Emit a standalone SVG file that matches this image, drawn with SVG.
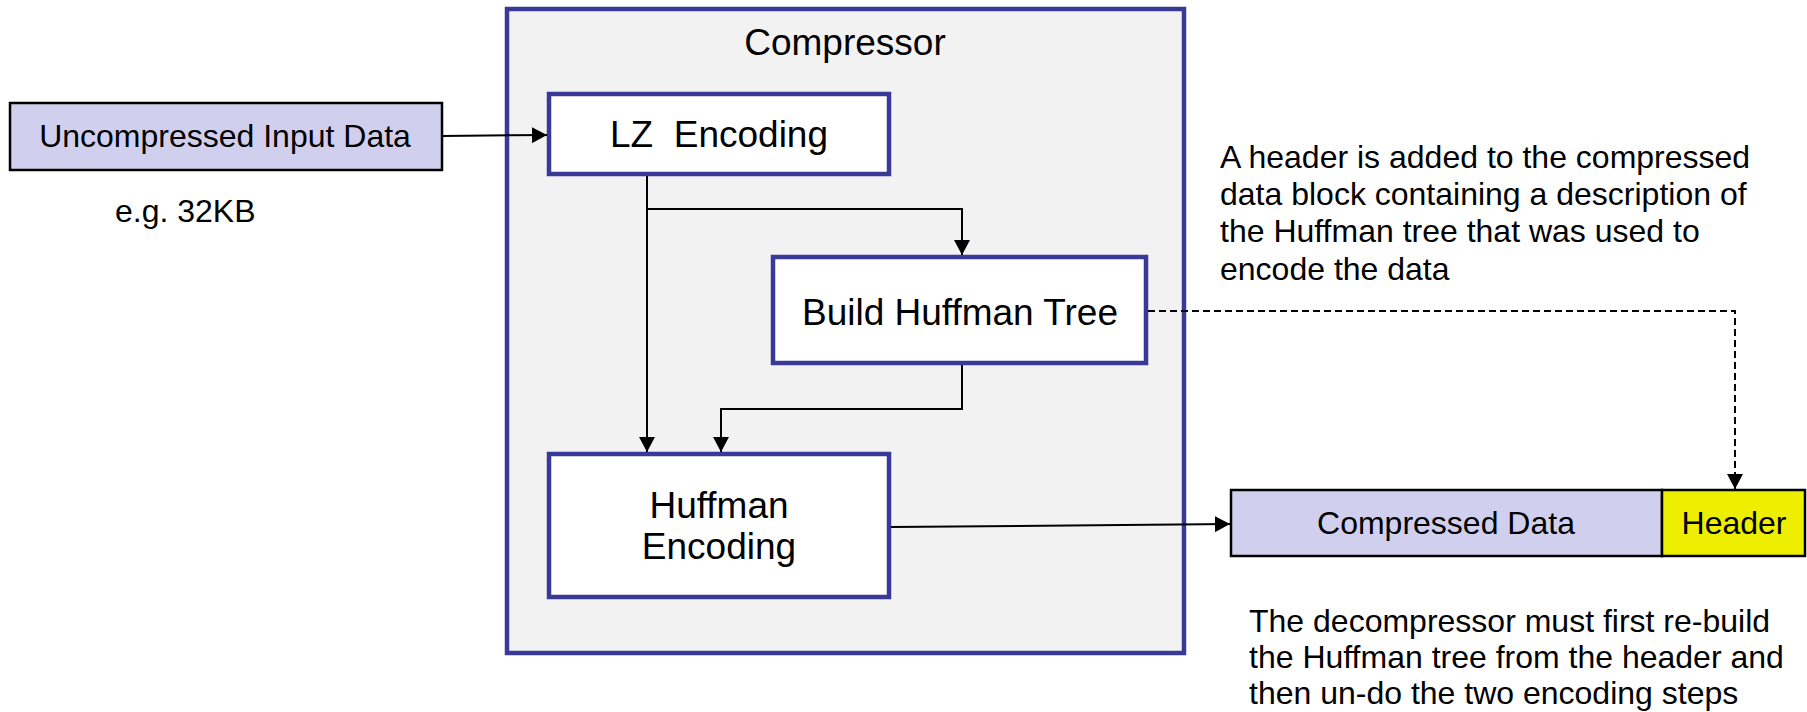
<svg xmlns="http://www.w3.org/2000/svg" width="1807" height="712" viewBox="0 0 1807 712">
  <style>
    text { font-family: "Liberation Sans", Arial, sans-serif; fill: #000; }
    .big { font-size: 37px; text-anchor: middle; white-space: pre; }
    .mid { font-size: 32px; text-anchor: middle; }
    .note { font-size: 32px; }
    .stage { fill: #fff; stroke: #393998; stroke-width: 4.5; }
    .data { fill: #d0d0ee; stroke: #000; stroke-width: 2.5; }
    .conn { fill: none; stroke: #000; stroke-width: 2; }
    .dash { stroke-dasharray: 7 4; }
  </style>
  <defs>
    <marker id="arrow" markerUnits="userSpaceOnUse" markerWidth="16" markerHeight="16" refX="15" refY="8" orient="auto">
      <path d="M0,0 L15,8 L0,16 Z" fill="#000"/>
    </marker>
  </defs>

  <!-- compressor container -->
  <g id="compressor">
    <rect x="507" y="9" width="677" height="644" fill="#f2f2f2" stroke="#393998" stroke-width="4.5"/>
    <text class="big" x="845" y="55">Compressor</text>
  </g>

  <g id="input">
    <rect class="data" x="10" y="103" width="432" height="67"/>
    <text class="mid" x="225" y="147">Uncompressed Input Data</text>
  </g>
  <g id="input-size">
    <text class="note" x="115" y="222">e.g. 32KB</text>
  </g>

  <g id="lz">
    <rect class="stage" x="549" y="94" width="340" height="80"/>
    <text class="big" x="719" y="147">LZ  Encoding</text>
  </g>

  <g id="build-tree">
    <rect class="stage" x="773" y="257" width="373" height="106"/>
    <text class="big" x="960" y="325">Build Huffman Tree</text>
  </g>

  <g id="huffman">
    <rect class="stage" x="549" y="454" width="340" height="143"/>
    <text class="big" x="719" y="518">Huffman</text>
    <text class="big" x="719" y="559">Encoding</text>
  </g>

  <g id="output">
    <rect class="data" x="1231" y="490" width="431" height="66"/>
    <text class="mid" x="1446" y="534">Compressed Data</text>
  </g>
  <g id="header">
    <rect x="1662" y="490" width="143" height="66" fill="#eeee00" stroke="#000" stroke-width="2.5"/>
    <text class="mid" x="1734" y="534">Header</text>
  </g>

  <g id="note-header">
    <text class="note" x="1220" y="168">A header is added to the compressed</text>
    <text class="note" x="1220" y="205">data block containing a description of</text>
    <text class="note" x="1220" y="242">the Huffman tree that was used to</text>
    <text class="note" x="1220" y="280">encode the data</text>
  </g>

  <g id="note-decompress">
    <text class="note" x="1249" y="632">The decompressor must first re-build</text>
    <text class="note" x="1249" y="668">the Huffman tree from the header and</text>
    <text class="note" x="1249" y="704">then un-do the two encoding steps</text>
  </g>

  <!-- connectors -->
  <g id="connectors">
    <path class="conn" d="M442,136 L547,135" marker-end="url(#arrow)"/>
    <path class="conn" d="M647,176 L647,452" marker-end="url(#arrow)"/>
    <path class="conn" d="M647,209 L962,209 L962,255" marker-end="url(#arrow)"/>
    <path class="conn" d="M962,365 L962,409 L721,409 L721,452" marker-end="url(#arrow)"/>
    <path class="conn" d="M891,527 L1230,524" marker-end="url(#arrow)"/>
    <path class="conn dash" d="M1148,311 L1735,311 L1735,489" marker-end="url(#arrow)"/>
  </g>
</svg>
